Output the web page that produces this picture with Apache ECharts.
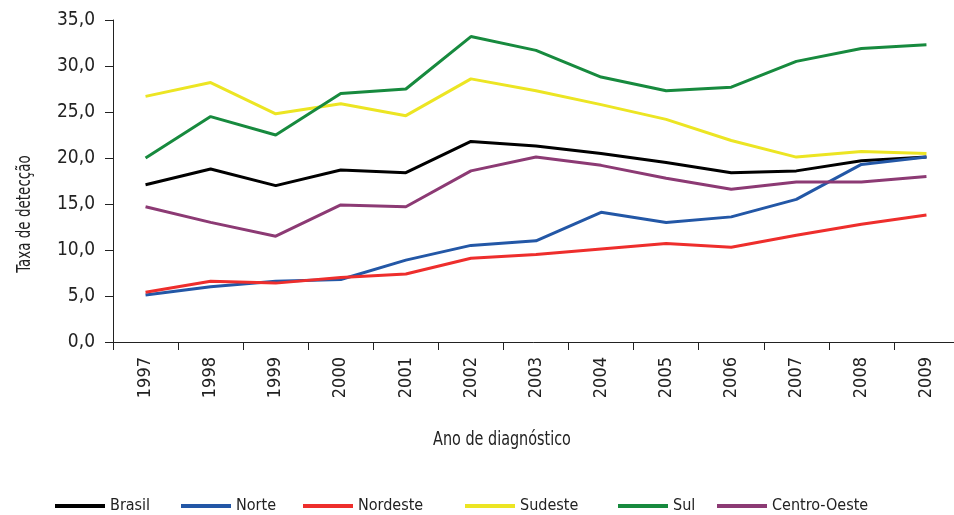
<!DOCTYPE html>
<html>
<head>
<meta charset="utf-8">
<script src="https://cdn.jsdelivr.net/npm/echarts@6/dist/echarts.min.js"></script>
<style>
  html, body { margin: 0; padding: 0; background: #fff; }
  #chart { width: 954px; height: 515px; }
</style>
</head>
<body>
<div id="chart"></div>
<script>
const years = ['1997', '1998', '1999', '2000', '2001', '2002', '2003', '2004', '2005', '2006', '2007', '2008', '2009']
const brasil = [17.1, 18.8, 17.0, 18.7, 18.4, 21.8, 21.3, 20.5, 19.5, 18.4, 18.6, 19.7, 20.1]
const norte = [5.1, 6.0, 6.6, 6.8, 8.9, 10.5, 11.0, 14.1, 13.0, 13.6, 15.5, 19.3, 20.1]
const nordeste = [5.4, 6.6, 6.4, 7.0, 7.4, 9.1, 9.5, 10.1, 10.7, 10.3, 11.6, 12.8, 13.8]
const sudeste = [26.7, 28.2, 24.8, 25.9, 24.6, 28.6, 27.3, 25.8, 24.2, 21.9, 20.1, 20.7, 20.5]
const sul = [20.0, 24.5, 22.5, 27.0, 27.5, 33.2, 31.7, 28.8, 27.3, 27.7, 30.5, 31.9, 32.3]
const centroOeste = [14.7, 13.0, 11.5, 14.9, 14.7, 18.6, 20.1, 19.2, 17.8, 16.6, 17.4, 17.4, 18.0]

const seriesNames = ['Brasil', 'Norte', 'Nordeste', 'Sudeste', 'Sul', 'Centro-Oeste']
const seriesData = [brasil, norte, nordeste, sudeste, sul, centroOeste]
const colors = ['#000000', '#2357a6', '#ee2e2c', '#ece523', '#178a3e', '#8c3a74']
const legendLeft = [50, 176, 298, 460, 613, 712]

// the original uses a very narrow face; ask for the condensed DejaVu
const font = '"DejaVu Sans", sans-serif'
const stretch = 'condensed'

const chart = echarts.init(document.getElementById('chart'))

// one legend per item so each can sit where the original puts it
const legends = seriesNames.map((name, i) => ({
  data: [name],
  left: legendLeft[i],
  top: 493,
  itemWidth: 50,
  itemHeight: 4,
  icon: 'rect',
  textStyle: { fontFamily: font, fontStyle: stretch, fontSize: 16, color: '#222' },
  selectedMode: false
}))

const option = {
  animation: false,
  color: colors,
  textStyle: { fontFamily: font },
  legend: legends,
  grid: {
    left: 113,
    top: 20,
    width: 846,
    height: 322,
    outerBoundsMode: 'none'
  },
  xAxis: {
    type: 'category',
    data: years,
    boundaryGap: true,
    axisLine: { lineStyle: { color: '#222', width: 1 } },
    axisTick: { show: true, inside: false, length: 8, lineStyle: { color: '#222' } },
    axisLabel: {
      rotate: 90,
      margin: 15,
      interval: 0,
      fontFamily: font,
      fontStyle: stretch,
      fontSize: 18,
      color: '#222'
    }
  },
  yAxis: {
    type: 'value',
    min: 0,
    max: 35,
    interval: 5,
    axisLine: { show: true, lineStyle: { color: '#222', width: 1 } },
    axisTick: { show: true, inside: false, length: 8, lineStyle: { color: '#222' } },
    splitLine: { show: false },
    axisLabel: {
      margin: 18,
      fontFamily: font,
      fontStyle: stretch,
      fontSize: 19,
      color: '#222',
      formatter: v => v.toFixed(1).replace('.', ',')
    }
  },
  graphic: [
    {
      type: 'text',
      x: 25,
      y: 214,
      rotation: Math.PI / 2,
      scaleX: 0.75,
      style: {
        text: 'Taxa de detecção',
        fontFamily: font,
        fontStyle: stretch,
        fontSize: 20,
        fill: '#222',
        align: 'center',
        verticalAlign: 'middle'
      }
    },
    {
      type: 'text',
      x: 502,
      y: 440,
      scaleX: 0.8,
      style: {
        text: 'Ano de diagnóstico',
        fontFamily: font,
        fontStyle: stretch,
        fontSize: 20,
        fill: '#222',
        align: 'center',
        verticalAlign: 'middle'
      }
    }
  ],
  series: seriesNames.map((name, i) => ({
    name,
    type: 'line',
    data: seriesData[i],
    symbol: 'none',
    lineStyle: { width: 3, color: colors[i] },
    itemStyle: { color: colors[i] }
  }))
}

chart.setOption(option)
</script>
</body>
</html>
